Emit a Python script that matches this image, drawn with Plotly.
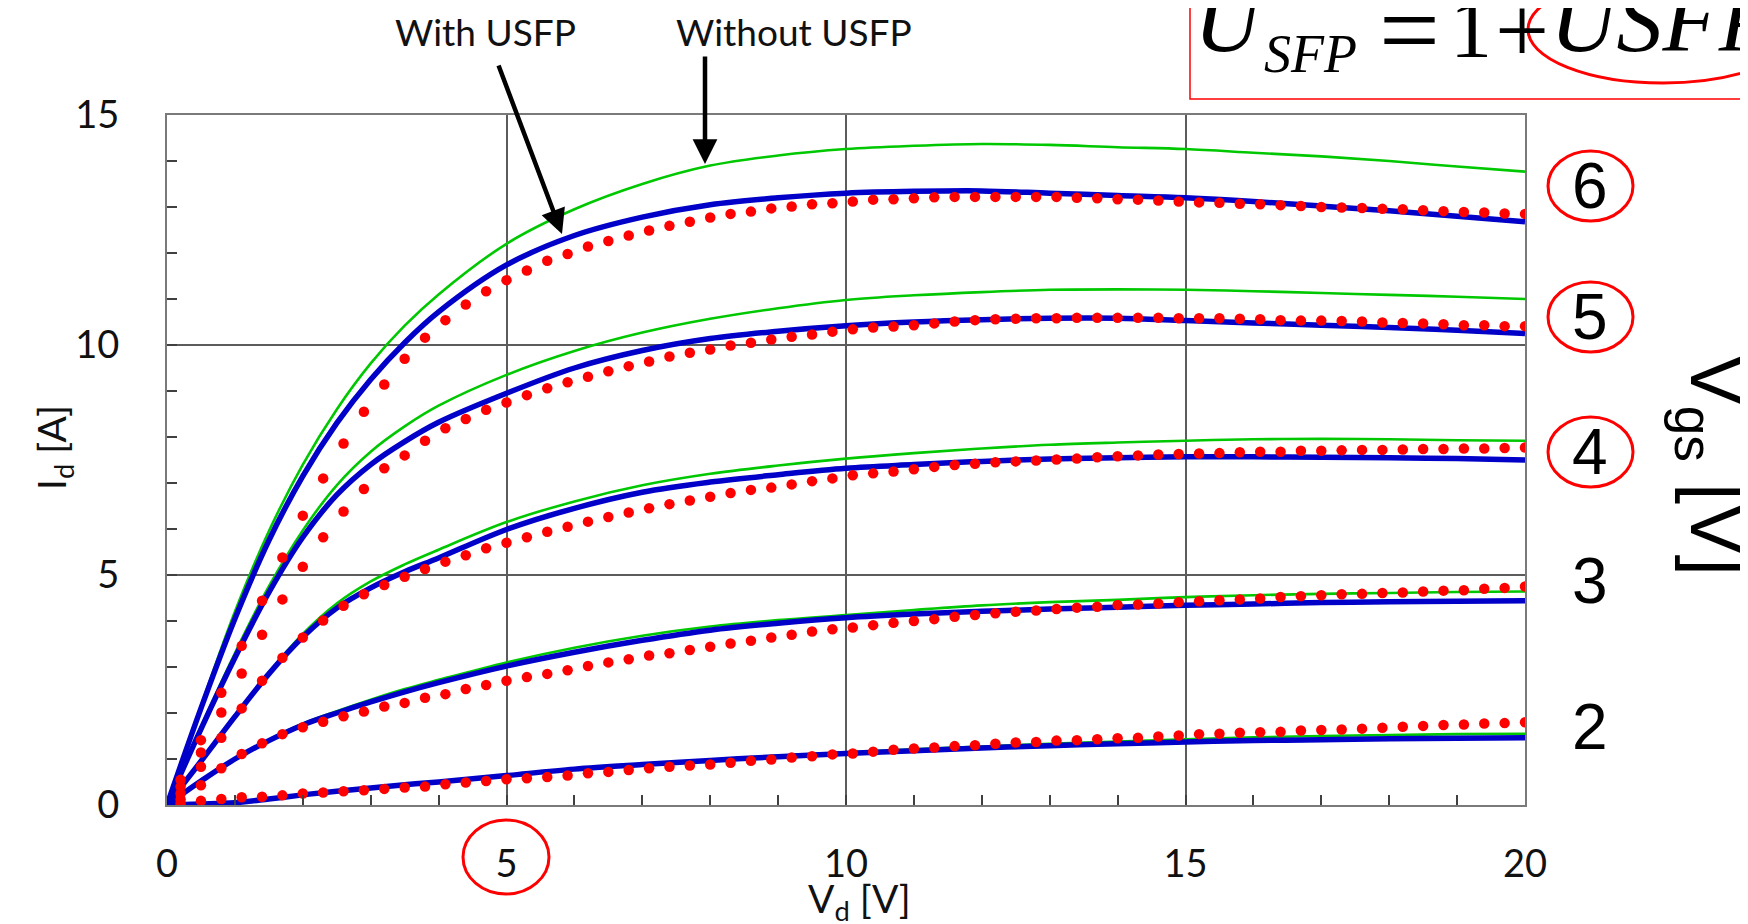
import plotly.graph_objects as go

# ---------------- data ----------------
vgs_levels = [2, 3, 4, 5, 6]

# model curve abscissa (V_d) for simulated characteristics
vd_model = [0, 0.5, 1, 1.5, 2, 2.5, 3, 3.5, 4, 5, 6, 7, 8, 9, 10,
            11, 12, 13, 14, 15, 16, 17, 18, 19, 20]

# "With USFP" (blue) model curves
id_with_2 = [0, 0.02, 0.05, 0.13, 0.22, 0.30, 0.37, 0.44, 0.50, 0.64, 0.78, 0.88, 0.97,
             1.05, 1.12, 1.18, 1.24, 1.29, 1.33, 1.37, 1.40, 1.42, 1.44, 1.45, 1.46]
id_with_3 = [0, 0.52, 1.00, 1.40, 1.74, 2.00, 2.24, 2.46, 2.66, 3.02, 3.32, 3.58, 3.80,
             3.95, 4.07, 4.15, 4.21, 4.26, 4.30, 4.34, 4.37, 4.40, 4.42, 4.43, 4.44]
id_with_4 = [0, 0.95, 1.92, 2.85, 3.65, 4.28, 4.72, 5.07, 5.37, 5.99, 6.45, 6.80, 7.02,
             7.18, 7.32, 7.40, 7.47, 7.52, 7.55, 7.57, 7.57, 7.56, 7.55, 7.53, 7.50]
id_with_5 = [0, 1.65, 3.20, 4.62, 5.82, 6.74, 7.40, 7.90, 8.32, 8.95, 9.50, 9.88, 10.14,
             10.30, 10.42, 10.50, 10.55, 10.58, 10.58, 10.53, 10.48, 10.43, 10.38, 10.32, 10.25]
id_with_6 = [0, 2.10, 4.05, 5.75, 7.15, 8.30, 9.25, 10.05, 10.72, 11.74, 12.38, 12.78, 13.05,
             13.20, 13.30, 13.34, 13.35, 13.30, 13.25, 13.20, 13.12, 13.02, 12.92, 12.80, 12.68]

# "Without USFP" (green) model curves
id_without_2 = [0, 0.02, 0.05, 0.13, 0.22, 0.30, 0.37, 0.44, 0.50, 0.64, 0.78, 0.89, 0.98,
                1.07, 1.14, 1.21, 1.27, 1.33, 1.38, 1.43, 1.47, 1.50, 1.52, 1.54, 1.55]
id_without_3 = [0, 0.52, 1.01, 1.42, 1.77, 2.04, 2.29, 2.52, 2.72, 3.10, 3.42, 3.68, 3.88,
                4.02, 4.13, 4.24, 4.34, 4.41, 4.46, 4.52, 4.56, 4.59, 4.61, 4.63, 4.64]
id_without_4 = [0, 0.95, 1.93, 2.88, 3.72, 4.38, 4.86, 5.23, 5.55, 6.15, 6.60, 6.95, 7.20,
                7.38, 7.53, 7.65, 7.75, 7.83, 7.88, 7.92, 7.95, 7.96, 7.95, 7.93, 7.92]
id_without_5 = [0, 1.70, 3.30, 4.75, 5.97, 6.95, 7.68, 8.23, 8.68, 9.35, 9.87, 10.27, 10.57,
                10.80, 10.98, 11.08, 11.15, 11.20, 11.21, 11.20, 11.17, 11.13, 11.09, 11.05, 11.00]
id_without_6 = [0, 2.15, 4.20, 5.95, 7.40, 8.60, 9.60, 10.42, 11.10, 12.20, 12.95, 13.50, 13.90,
                14.12, 14.26, 14.33, 14.37, 14.35, 14.30, 14.26, 14.18, 14.10, 14.00, 13.88, 13.77]

# measured points (red dots)
vd_meas = [0.2, 0.5, 0.8, 1.1, 1.4, 1.7, 2.0, 2.3, 2.6, 2.9, 3.2, 3.5, 3.8, 4.1, 4.4, 4.7,
           5.0, 5.3, 5.6, 5.9, 6.2, 6.5, 6.8, 7.1, 7.4, 7.7, 8.0, 8.3, 8.6, 8.9, 9.2, 9.5,
           9.8, 10.1, 10.4, 10.7, 11.0, 11.3, 11.6, 11.9, 12.2, 12.5, 12.8, 13.1, 13.4, 13.7,
           14.0, 14.3, 14.6, 14.9, 15.2, 15.5, 15.8, 16.1, 16.4, 16.7, 17.0, 17.3, 17.6, 17.9,
           18.2, 18.5, 18.8, 19.1, 19.4, 19.7, 20.0]
id_meas_2 = [0.03, 0.09, 0.13, 0.17, 0.18, 0.21, 0.25, 0.27, 0.30, 0.32, 0.35, 0.38, 0.40, 0.45,
             0.49, 0.52, 0.56, 0.58, 0.61, 0.64, 0.69, 0.72, 0.76, 0.80, 0.83, 0.86, 0.88, 0.92,
             0.96, 0.99, 1.03, 1.06, 1.10, 1.12, 1.16, 1.20, 1.23, 1.25, 1.28, 1.30, 1.33, 1.36,
             1.37, 1.40, 1.41, 1.43, 1.45, 1.46, 1.49, 1.51, 1.54, 1.55, 1.57, 1.58, 1.59, 1.62,
             1.63, 1.64, 1.66, 1.68, 1.70, 1.72, 1.74, 1.75, 1.77, 1.78, 1.80]
id_meas_3 = [0.12, 0.43, 0.80, 1.11, 1.34, 1.54, 1.69, 1.81, 1.93, 2.03, 2.14, 2.22, 2.33, 2.41,
             2.52, 2.61, 2.70, 2.78, 2.85, 2.93, 3.02, 3.10, 3.17, 3.25, 3.30, 3.37, 3.44, 3.51,
             3.57, 3.64, 3.70, 3.77, 3.82, 3.86, 3.91, 3.96, 4.00, 4.04, 4.09, 4.13, 4.17, 4.20,
             4.23, 4.26, 4.29, 4.31, 4.35, 4.36, 4.38, 4.41, 4.43, 4.45, 4.47, 4.49, 4.52, 4.54,
             4.56, 4.58, 4.59, 4.61, 4.62, 4.64, 4.66, 4.67, 4.70, 4.72, 4.75]
id_meas_4 = [0.25, 0.83, 1.46, 2.10, 2.70, 3.20, 3.64, 4.01, 4.33, 4.58, 4.78, 4.96, 5.13, 5.29,
             5.43, 5.58, 5.70, 5.82, 5.94, 6.05, 6.16, 6.26, 6.36, 6.45, 6.54, 6.62, 6.70, 6.78,
             6.85, 6.90, 6.97, 7.04, 7.10, 7.17, 7.21, 7.25, 7.30, 7.35, 7.39, 7.42, 7.45, 7.47,
             7.49, 7.51, 7.53, 7.56, 7.58, 7.60, 7.62, 7.63, 7.64, 7.65, 7.67, 7.68, 7.68, 7.70,
             7.70, 7.71, 7.72, 7.72, 7.73, 7.74, 7.74, 7.75, 7.75, 7.76, 7.77]
id_meas_5 = [0.40, 1.14, 2.01, 2.86, 3.70, 4.47, 5.18, 5.82, 6.38, 6.87, 7.32, 7.60, 7.92, 8.19,
             8.39, 8.59, 8.75, 8.91, 9.06, 9.19, 9.31, 9.43, 9.54, 9.64, 9.75, 9.83, 9.90, 9.99,
             10.05, 10.12, 10.18, 10.23, 10.29, 10.34, 10.38, 10.40, 10.43, 10.47, 10.51, 10.54,
             10.56, 10.57, 10.58, 10.58, 10.59, 10.59, 10.59, 10.59, 10.59, 10.58, 10.58, 10.58,
             10.57, 10.56, 10.54, 10.53, 10.53, 10.52, 10.51, 10.49, 10.48, 10.47, 10.45, 10.43,
             10.43, 10.41, 10.41]
id_meas_6 = [0.55, 1.41, 2.44, 3.46, 4.44, 5.38, 6.29, 7.10, 7.86, 8.55, 9.14, 9.70, 10.16, 10.54,
             10.88, 11.17, 11.41, 11.62, 11.83, 11.98, 12.14, 12.26, 12.38, 12.49, 12.59, 12.68,
             12.77, 12.85, 12.90, 12.97, 13.01, 13.06, 13.08, 13.12, 13.16, 13.17, 13.19, 13.21,
             13.22, 13.22, 13.22, 13.22, 13.22, 13.22, 13.20, 13.19, 13.17, 13.16, 13.14, 13.12,
             13.10, 13.09, 13.07, 13.06, 13.04, 13.02, 13.00, 12.99, 12.98, 12.96, 12.95, 12.93,
             12.91, 12.89, 12.88, 12.86, 12.85]

with_curves = [id_with_2, id_with_3, id_with_4, id_with_5, id_with_6]
without_curves = [id_without_2, id_without_3, id_without_4, id_without_5, id_without_6]
meas_curves = [id_meas_2, id_meas_3, id_meas_4, id_meas_5, id_meas_6]

x_ticks = [0, 5, 10, 15, 20]
y_ticks = [0, 5, 10, 15]

# ---------------- layout geometry ----------------
W, H = 1748, 924
L, R, T, B = 159, 1517, 107, 797


def px(x):
    return (x - L) / (R - L)


def py(y):
    return (B - y) / (B - T)


GREEN = "#00c800"
BLUE = "#0000c8"
RED = "#ff0000"

fig = go.Figure()

for v, g, b in zip(vgs_levels, without_curves, with_curves):
    fig.add_trace(go.Scatter(x=vd_model, y=g, mode="lines",
                             line=dict(color=GREEN, width=2.6, shape="spline", smoothing=1.0),
                             showlegend=False, hoverinfo="skip"))
    fig.add_trace(go.Scatter(x=vd_model, y=b, mode="lines",
                             line=dict(color=BLUE, width=5.5, shape="spline", smoothing=1.0),
                             showlegend=False, hoverinfo="skip"))
for v, m in zip(vgs_levels, meas_curves):
    fig.add_trace(go.Scatter(x=vd_meas, y=m, mode="markers",
                             marker=dict(color=RED, size=10.5, line=dict(width=0)),
                             showlegend=False, hoverinfo="skip"))

TICKFONT = dict(family="Lato", size=38, color="#111111")
axis_common = dict(
    showline=True, linecolor="#7a7a7a", linewidth=2, mirror=True,
    showgrid=True, gridcolor="#5c5c5c", gridwidth=1.6,
    zeroline=False, ticks="inside", ticklen=10, tickwidth=1.5, tickcolor="#404040",
    tickfont=TICKFONT,
    minor=dict(ticks="inside", ticklen=10, tickwidth=1.5, tickcolor="#404040",
               dtick=1, showgrid=False),
)

fig.update_xaxes(range=[0, 20], tickvals=x_ticks, ticklabelstandoff=24, **axis_common)
fig.update_yaxes(range=[0, 15], tickvals=y_ticks, ticklabelstandoff=38, **axis_common)

ann = []
# axis titles
ann.append(dict(x=px(851), y=py(893), xref="paper", yref="paper", showarrow=False,
                text="V<sub>d</sub> [V]", font=dict(family="Lato", size=39, color="#111"),
                xanchor="center", yanchor="middle"))
ann.append(dict(x=px(46), y=py(440), xref="paper", yref="paper", showarrow=False,
                text="I<sub>d</sub> [A]", textangle=-90,
                font=dict(family="Lato", size=39, color="#111"),
                xanchor="center", yanchor="middle"))

# Vgs labels at right
vgs_label_y = [719, 573, 444, 309, 178]
for v, yy in zip(vgs_levels, vgs_label_y):
    ann.append(dict(x=px(1582), y=py(yy), xref="paper", yref="paper", showarrow=False,
                    text=str(v), font=dict(family="Liberation Sans", size=64, color="#000"),
                    xanchor="center", yanchor="middle"))
ann.append(dict(x=px(1704), y=py(457), xref="paper", yref="paper", showarrow=False,
                text="V<sub>gs</sub> [V]", textangle=90,
                font=dict(family="Liberation Sans", size=76, color="#000"),
                xanchor="center", yanchor="middle"))

# With / Without USFP labels
ann.append(dict(x=px(477), y=py(23), xref="paper", yref="paper", showarrow=False,
                text="With USFP", font=dict(family="Lato", size=37, color="#111"),
                xanchor="center", yanchor="middle"))
ann.append(dict(x=px(786), y=py(23), xref="paper", yref="paper", showarrow=False,
                text="Without USFP", font=dict(family="Lato", size=37, color="#111"),
                xanchor="center", yanchor="middle"))
# arrows
ann.append(dict(x=px(554), y=py(226), xref="paper", yref="paper", text="",
                showarrow=True, arrowhead=2, arrowsize=1.1, arrowwidth=4.5, arrowcolor="#000",
                ax=490 - 554, ay=56 - 226))
ann.append(dict(x=px(697), y=py(156), xref="paper", yref="paper", text="",
                showarrow=True, arrowhead=2, arrowsize=1.1, arrowwidth=4.5, arrowcolor="#000",
                ax=0, ay=47 - 156))

# formula pieces
SERIF = "Liberation Serif"
ann.append(dict(x=px(1222), y=py(12), xref="paper", yref="paper", showarrow=False,
                text="<i>U</i>", font=dict(family=SERIF, size=92, color="#000"),
                xanchor="center", yanchor="middle"))
ann.append(dict(x=px(1302), y=py(46), xref="paper", yref="paper", showarrow=False,
                text="<i>SFP</i>", font=dict(family=SERIF, size=54, color="#000"),
                xanchor="center", yanchor="middle"))
ann.append(dict(x=px(1401), y=py(22), xref="paper", yref="paper", showarrow=False,
                text="=", font=dict(family=SERIF, size=108, color="#000"),
                xanchor="center", yanchor="middle"))
ann.append(dict(x=px(1463), y=py(21), xref="paper", yref="paper", showarrow=False,
                text="1", font=dict(family=SERIF, size=84, color="#000"),
                xanchor="center", yanchor="middle"))
ann.append(dict(x=px(1514), y=py(22), xref="paper", yref="paper", showarrow=False,
                text="+", font=dict(family=SERIF, size=96, color="#000"),
                xanchor="center", yanchor="middle"))
ann.append(dict(x=px(1540), y=py(12), xref="paper", yref="paper", showarrow=False,
                text="<i>USFP</i>", font=dict(family=SERIF, size=92, color="#000"),
                xanchor="left", yanchor="middle"))

shapes = []
# formula box
shapes.append(dict(type="rect", xref="paper", yref="paper",
                   x0=px(1182), x1=px(1765), y0=py(91), y1=py(-20),
                   line=dict(color=RED, width=1.5), fillcolor="rgba(0,0,0,0)"))
# ellipse around USFP in formula
shapes.append(dict(type="circle", xref="paper", yref="paper",
                   x0=px(1520), x1=px(1790), y0=py(75), y1=py(-32),
                   line=dict(color=RED, width=3)))
# circles around Vgs 6,5,4
for yy in vgs_label_y[2:]:
    shapes.append(dict(type="circle", xref="paper", yref="paper",
                       x0=px(1540), x1=px(1625), y0=py(yy + 35), y1=py(yy - 35),
                       line=dict(color=RED, width=3)))
# circle around x tick label 5
shapes.append(dict(type="circle", xref="paper", yref="paper",
                   x0=px(455), x1=px(541), y0=py(886), y1=py(812),
                   line=dict(color=RED, width=3)))

fig.update_layout(
    width=W, height=H,
    margin=dict(l=L, r=W - R, t=T, b=H - B),
    paper_bgcolor="white", plot_bgcolor="white",
    annotations=ann, shapes=shapes,
    showlegend=False,
)

fig.write_html("out.html")
